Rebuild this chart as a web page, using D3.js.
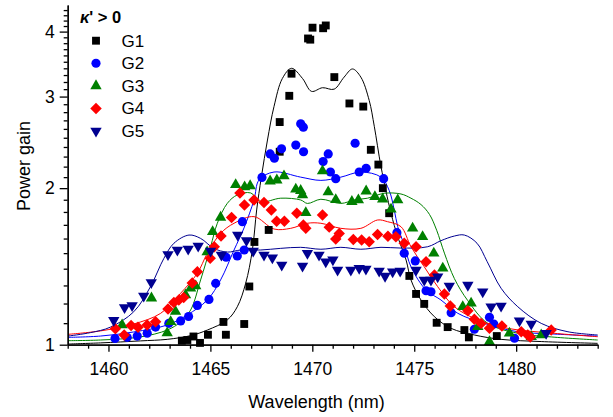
<!DOCTYPE html>
<html>
<head>
<meta charset="utf-8">
<script src="https://cdn.jsdelivr.net/npm/d3@7"></script>
<style>
  body { margin: 0; background: #fff; }
  text { font-family: Arial, "Liberation Sans", sans-serif; }
</style>
</head>
<body>
<div id="chart"></div>
<script>
// measured points, [wavelength nm, power gain]
var g1Data = [[1463.60,1.018],[1463.87,1.021],[1464.17,1.037],[1464.49,1.008],[1464.88,1.045],[1465.64,1.106],[1465.76,1.045],[1466.66,1.096],[1466.91,1.294],[1467.16,1.576],[1467.86,1.662],[1468.40,2.35],[1468.40,2.68],[1468.87,3.01],[1468.98,3.32],[1469.79,3.88],[1469.90,3.86],[1470.01,4.07],[1470.53,4.06],[1470.66,4.11],[1471.08,3.27],[1471.82,2.91],[1472.50,2.87],[1472.87,2.37],[1473.24,2.22],[1473.46,2.00],[1473.77,1.79],[1474.76,1.356],[1475.09,1.252],[1475.49,1.198],[1476.10,1.102],[1476.64,1.081],[1477.46,1.067],[1477.68,1.033],[1479.05,1.039]];
var g2Data = [[1460.32,1.028],[1460.92,1.033],[1461.41,1.039],[1461.90,1.052],[1462.31,1.081],[1462.96,1.099],[1463.54,1.111],[1463.93,1.133],[1464.36,1.190],[1464.93,1.222],[1465.26,1.312],[1465.77,1.473],[1466.32,1.481],[1466.66,1.521],[1466.57,1.724],[1467.53,2.097],[1467.93,2.327],[1468.14,2.283],[1468.49,2.38],[1469.19,2.42],[1469.57,2.35],[1469.43,2.66],[1469.56,2.62],[1470.53,2.25],[1470.78,2.327],[1470.89,2.148],[1471.15,2.086],[1472.10,2.44],[1472.30,2.148],[1472.64,2.184],[1473.50,2.086],[1474.15,1.642],[1474.51,1.499],[1475.05,1.449],[1475.58,1.27],[1475.82,1.264],[1476.81,1.152],[1477.95,1.071],[1478.69,1.129],[1478.90,1.096],[1479.92,1.029]];
var g3Data = [[1460.67,1.091],[1462.11,1.229],[1462.88,1.053],[1463.05,1.107],[1463.29,1.158],[1463.78,1.246],[1464.03,1.284],[1464.28,1.297],[1464.84,1.507],[1465.11,1.649],[1465.50,1.757],[1466.24,2.03],[1466.68,2.01],[1466.95,2.02],[1467.93,2.063],[1468.26,2.072],[1468.61,2.11],[1469.19,1.99],[1469.43,1.978],[1469.52,1.941],[1469.68,1.794],[1470.50,2.157],[1470.78,1.966],[1471.15,1.90],[1471.94,1.884],[1472.26,1.898],[1472.64,1.974],[1473.07,1.925],[1473.45,1.905],[1473.86,1.821],[1474.19,1.898],[1474.92,1.674],[1475.41,1.613],[1475.96,1.499],[1476.40,1.403],[1477.38,1.183],[1477.79,1.201],[1478.12,1.083],[1478.69,1.013],[1479.67,1.052],[1480.74,1.036],[1481.23,1.044]];
var g4Data = [[1460.34,1.073],[1460.77,1.044],[1461.11,1.089],[1461.45,1.080],[1461.90,1.091],[1462.31,1.107],[1462.92,1.171],[1463.21,1.205],[1463.45,1.219],[1463.69,1.233],[1464.11,1.314],[1464.36,1.381],[1464.99,1.466],[1465.19,1.543],[1465.52,1.618],[1466.04,1.757],[1466.45,1.958],[1466.67,1.857],[1467.14,1.898],[1467.63,1.877],[1467.99,1.816],[1468.25,1.727],[1468.63,1.727],[1469.24,1.789],[1469.56,1.699],[1469.68,1.674],[1470.50,1.776],[1470.83,1.683],[1471.15,1.596],[1471.32,1.637],[1472.01,1.594],[1472.42,1.589],[1472.79,1.578],[1473.20,1.629],[1473.71,1.616],[1474.10,1.613],[1474.51,1.567],[1475.09,1.543],[1475.58,1.444],[1475.99,1.361],[1476.48,1.252],[1476.77,1.187],[1477.63,1.162],[1477.95,1.119],[1478.28,1.099],[1478.69,1.075],[1479.30,1.086],[1480.25,1.059],[1480.57,1.044],[1480.69,1.035],[1481.72,1.067]];
var g5Data = [[1460.26,1.114],[1460.79,1.179],[1461.16,1.190],[1461.73,1.241],[1462.10,1.317],[1462.92,1.491],[1463.38,1.521],[1463.91,1.528],[1464.40,1.548],[1465.01,1.514],[1465.54,1.488],[1466.34,1.625],[1466.77,1.586],[1467.10,1.514],[1467.63,1.488],[1468.04,1.470],[1468.50,1.423],[1469.52,1.417],[1469.76,1.499],[1470.33,1.488],[1470.66,1.444],[1471.01,1.457],[1471.24,1.392],[1471.89,1.392],[1472.30,1.403],[1472.63,1.398],[1473.28,1.386],[1473.57,1.355],[1473.94,1.381],[1474.31,1.386],[1475.09,1.392],[1475.49,1.332],[1475.82,1.332],[1476.15,1.351],[1476.72,1.297],[1477.63,1.302],[1478.36,1.264],[1478.77,1.183],[1479.26,1.187],[1480.16,1.112],[1480.74,1.096],[1481.47,1.052]];

// simulated curves
var g1Fit = [[1458.03,1.003],[1459.61,1.008],[1461.57,1.017],[1462.88,1.024],[1464.03,1.041],[1464.85,1.067],[1465.83,1.116],[1466.32,1.183],[1466.73,1.312],[1467.06,1.521],[1467.27,1.816],[1467.50,2.10],[1467.80,2.475],[1468.12,2.87],[1468.53,3.25],[1468.98,3.40],[1469.52,3.25],[1469.96,3.07],[1470.50,3.12],[1471.07,3.10],[1471.56,3.27],[1471.97,3.39],[1472.38,3.27],[1472.79,2.95],[1473.04,2.63],[1473.37,2.20],[1473.86,1.79],[1474.19,1.613],[1474.60,1.455],[1474.84,1.332],[1475.33,1.219],[1475.99,1.132],[1476.81,1.075],[1477.95,1.044],[1479.26,1.024],[1481.23,1.014],[1484.0,1.006]];
var g2Fit = [[1458.02,1.033],[1459.61,1.039],[1461.24,1.058],[1462.88,1.091],[1463.87,1.141],[1464.85,1.219],[1465.50,1.332],[1466.16,1.521],[1466.65,1.677],[1467.14,1.898],[1467.39,2.075],[1468.12,2.148],[1469.43,2.10],[1470.42,2.07],[1471.40,2.10],[1472.38,2.148],[1473.37,2.10],[1473.77,1.98],[1474.02,1.816],[1474.19,1.686],[1474.51,1.555],[1474.84,1.412],[1475.58,1.274],[1476.31,1.219],[1477.14,1.149],[1478.44,1.099],[1480.08,1.059],[1481.72,1.049],[1484.0,1.039]];
var g3Fit = [[1458.02,1.018],[1459.61,1.021],[1461.57,1.035],[1462.88,1.067],[1463.54,1.106],[1464.03,1.166],[1464.52,1.332],[1465.01,1.543],[1465.34,1.712],[1465.83,1.87],[1466.32,1.941],[1466.98,1.958],[1467.47,1.883],[1468.45,1.913],[1469.43,1.898],[1469.76,1.869],[1470.42,1.904],[1471.40,1.869],[1472.05,1.898],[1472.71,1.913],[1473.53,1.955],[1474.35,1.949],[1474.84,1.913],[1475.33,1.86],[1475.75,1.78],[1476.10,1.66],[1476.48,1.50],[1476.97,1.34],[1477.63,1.215],[1478.61,1.099],[1480.08,1.052],[1481.72,1.035],[1484.0,1.021]];
var g4Fit = [[1458.02,1.047],[1459.61,1.063],[1461.24,1.096],[1462.56,1.149],[1463.54,1.256],[1464.36,1.372],[1464.85,1.499],[1465.50,1.637],[1466.16,1.712],[1467.14,1.763],[1468.12,1.669],[1468.94,1.674],[1469.76,1.712],[1470.42,1.712],[1471.40,1.674],[1472.38,1.674],[1473.20,1.737],[1473.69,1.724],[1474.35,1.686],[1474.84,1.543],[1475.49,1.412],[1476.15,1.293],[1476.97,1.183],[1478.12,1.116],[1479.59,1.075],[1481.72,1.053],[1484.0,1.036]];
var g5Fit = [[1458.02,1.039],[1459.12,1.055],[1460.10,1.081],[1461.24,1.157],[1462.06,1.293],[1462.72,1.466],[1463.21,1.567],[1463.95,1.625],[1464.52,1.601],[1465.17,1.532],[1465.83,1.507],[1466.49,1.521],[1467.47,1.521],[1468.45,1.532],[1469.43,1.539],[1470.42,1.526],[1471.40,1.539],[1472.38,1.526],[1473.37,1.539],[1474.35,1.534],[1475.66,1.543],[1476.31,1.585],[1476.97,1.618],[1477.46,1.625],[1478.08,1.567],[1478.58,1.444],[1479.26,1.284],[1480.08,1.183],[1481.23,1.099],[1482.54,1.059],[1484.0,1.044]];

var seriesNames = ["G1", "G2", "G3", "G4", "G5"];
var xMajorTicks = [1460, 1465, 1470, 1475, 1480];
var yMajorTicks = [1, 2, 3, 4];
var legendTitle = "> 0";

var svgWidth = 613, svgHeight = 417;
var margin = {top: 5, right: 15.3, bottom: 72.3, left: 67.7};
var chartWidth = svgWidth - margin.left - margin.right;
var chartHeight = svgHeight - margin.top - margin.bottom;

var svg = d3.select("#chart").append("svg")
  .attr("width", svgWidth)
  .attr("height", svgHeight);

var chartGroup = svg.append("g")
  .attr("transform", `translate(${margin.left}, ${margin.top})`);

var xScale = d3.scaleLinear().domain([1458, 1484]).range([0, chartWidth]);
var yScale = d3.scaleLog().domain([1, 4.5]).range([chartHeight, 0]);

// minor ticks
var xMinor = d3.range(1458, 1485, 1).filter(v => xMajorTicks.indexOf(v) < 0);
var yMinor = d3.range(1.1, 4.45, 0.1).map(v => Math.round(v * 10) / 10).filter(v => yMajorTicks.indexOf(v) < 0);

var series = [
  {name: "G1", data: g1Data, fit: g1Fit, color: "#000000", shape: "square"},
  {name: "G2", data: g2Data, fit: g2Fit, color: "#0000ff", shape: "circle"},
  {name: "G3", data: g3Data, fit: g3Fit, color: "#008000", shape: "triangle"},
  {name: "G4", data: g4Data, fit: g4Fit, color: "#ff0000", shape: "diamond"},
  {name: "G5", data: g5Data, fit: g5Fit, color: "#000090", shape: "down"}
];

function symbolPath(shape) {
  if (shape === "square") return d3.symbol(d3.symbolSquare, 62)();
  if (shape === "circle") return d3.symbol(d3.symbolCircle, 66)();
  if (shape === "diamond") return d3.symbol(d3.symbolSquare, 66)();
  return d3.symbol(d3.symbolTriangle, 56)();
}
function symbolRotate(shape) {
  if (shape === "diamond") return 45;
  if (shape === "down") return 180;
  return 0;
}

// fitted curves
var line = d3.line()
  .x(d => xScale(d[0]))
  .y(d => yScale(d[1]))
  .curve(d3.curveCatmullRom.alpha(0.5));

series.forEach(s => {
  chartGroup.append("path")
    .datum(s.fit)
    .attr("d", line)
    .attr("fill", "none")
    .attr("stroke", s.color)
    .attr("stroke-width", 1);
});

// data points
series.forEach(s => {
  chartGroup.append("g").selectAll("path")
    .data(s.data)
    .enter()
    .append("path")
    .attr("d", symbolPath(s.shape))
    .attr("transform", d => `translate(${xScale(d[0])},${yScale(d[1])}) rotate(${symbolRotate(s.shape)})`)
    .attr("fill", s.color);
});

// axes
chartGroup.append("g")
  .attr("transform", `translate(0, ${chartHeight})`)
  .call(d3.axisBottom(xScale).tickValues(xMajorTicks).tickFormat(d3.format("d")).tickSize(7).tickSizeOuter(0).tickPadding(11));
chartGroup.append("g")
  .attr("transform", `translate(0, ${chartHeight})`)
  .call(d3.axisBottom(xScale).tickValues(xMinor).tickFormat("").tickSize(4).tickSizeOuter(0));

chartGroup.append("g")
  .call(d3.axisLeft(yScale).tickValues(yMajorTicks).tickFormat(d3.format("d")).tickSize(8).tickSizeOuter(0).tickPadding(5));
chartGroup.append("g")
  .call(d3.axisLeft(yScale).tickValues(yMinor).tickFormat("").tickSize(4).tickSizeOuter(0));

chartGroup.selectAll(".domain, .tick line")
  .attr("stroke", "#000")
  .attr("stroke-width", 1.3);
chartGroup.selectAll(".tick text")
  .attr("fill", "#000")
  .style("font-size", "17.5px");

// axis titles
svg.append("text")
  .attr("x", 316.5)
  .attr("y", 408)
  .attr("text-anchor", "middle")
  .style("font-size", "18px")
  .text("Wavelength (nm)");

svg.append("text")
  .attr("transform", "translate(29.5, 166) rotate(-90)")
  .attr("text-anchor", "middle")
  .style("font-size", "18px")
  .text("Power gain");

// legend
var legend = svg.append("g");
var title = legend.append("text")
  .attr("x", 80)
  .attr("y", 23)
  .style("font-size", "16.5px")
  .style("font-weight", "bold");
title.append("tspan").style("font-style", "italic").text("\u03ba");
title.append("tspan").text("' " + legendTitle);

var rowY = d3.scaleLinear().domain([0, 4]).range([40.7, 131]);
series.forEach((s, i) => {
  legend.append("path")
    .attr("d", symbolPath(s.shape))
    .attr("transform", `translate(96,${rowY(i)}) rotate(${symbolRotate(s.shape)})`)
    .attr("fill", s.color);
  legend.append("text")
    .attr("x", 121.5)
    .attr("y", rowY(i) + 6)
    .style("font-size", "17px")
    .text(seriesNames[i]);
});
</script>
</body>
</html>
